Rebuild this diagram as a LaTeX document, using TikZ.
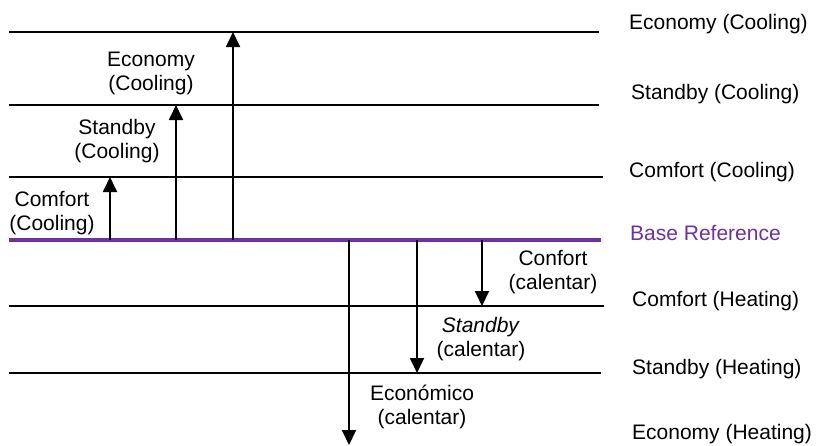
\documentclass[tikz,border=0pt]{standalone}
\usepackage{fontspec}
\setmainfont{Liberation Sans}
\usetikzlibrary{arrows.meta}
\definecolor{basepurple}{RGB}{112,48,160}

\begin{document}
\begin{tikzpicture}[line cap=butt,line join=round,x=1pt,y=-1pt,
    level/.style={line width=1.6pt,black},
    baseref/.style={line width=3.5pt,basepurple},
    offsetarrow/.style={line width=1.8pt,-{Triangle[width=14pt,length=15pt]}},
    lbl/.style={inner sep=0pt,font=\fontsize{21}{24}\selectfont},
    twolbl/.style={lbl,align=center}]
        \useasboundingbox (0,0) rectangle (816,445);
        % setpoint levels
        \coordinate (ecL) at (9,32);   \coordinate (ecR) at (599,32);
        \coordinate (scL) at (9,105);  \coordinate (scR) at (599,105);
        \coordinate (ccL) at (9,177);  \coordinate (ccR) at (603,177);
        \coordinate (bL) at (9,240);   \coordinate (bR) at (601,240);
        \coordinate (chL) at (9,306);  \coordinate (chR) at (604,306);
        \coordinate (shL) at (9,373);  \coordinate (shR) at (601,373);
        \draw [level] (ecL) -- (ecR);
        \draw [level] (scL) -- (scR);
        \draw [level] (ccL) -- (ccR);
        \draw [level] (chL) -- (chR);
        \draw [level] (shL) -- (shR);
        \draw [baseref] (bL) -- (bR);
        % offsets from the base reference
        \coordinate (cc0) at (110,240); \coordinate (cc1) at (110,177);
        \coordinate (sc0) at (176,240); \coordinate (sc1) at (176,105);
        \coordinate (ec0) at (233,240); \coordinate (ec1) at (233,32);
        \coordinate (ch0) at (482,240); \coordinate (ch1) at (482,306);
        \coordinate (sh0) at (417,240); \coordinate (sh1) at (417,373);
        \coordinate (eh0) at (349,240); \coordinate (eh1) at (349,445);
        \draw [offsetarrow] (cc0) -- (cc1);
        \draw [offsetarrow] (sc0) -- (sc1);
        \draw [offsetarrow] (ec0) -- (ec1);
        \draw [offsetarrow] (ch0) -- (ch1);
        \draw [offsetarrow] (sh0) -- (sh1);
        \draw [offsetarrow] (eh0) -- (eh1);
        % labels on the arrows
        \node [twolbl] (ecT) at (151,73) {Economy\\(Cooling)};
        \node [twolbl] (scT) at (117,141) {Standby\\(Cooling)};
        \node [twolbl] (ccT) at (52,213) {Comfort\\(Cooling)};
        \node [twolbl] (chT) at (553,272) {Confort\\(calentar)};
        \node [twolbl] (shT) at (481,339) {\textit{Standby}\\(calentar)};
        \node [twolbl] (ehT) at (422,407) {Económico\\(calentar)};
        % labels on the right
        \node [lbl,anchor=west] (ecN) at (629,24) {Economy (Cooling)};
        \node [lbl,anchor=west] (scN) at (631,94) {Standby (Cooling)};
        \node [lbl,anchor=west] (ccN) at (629,172) {Comfort (Cooling)};
        \node [lbl,anchor=west,text=basepurple] (bN) at (630,233) {Base Reference};
        \node [lbl,anchor=west] (chN) at (632,301) {Comfort (Heating)};
        \node [lbl,anchor=west] (shN) at (632,369) {Standby (Heating)};
        \node [lbl,anchor=west] (ehN) at (632,434) {Economy (Heating)};
    \end{tikzpicture}
\end{document}
